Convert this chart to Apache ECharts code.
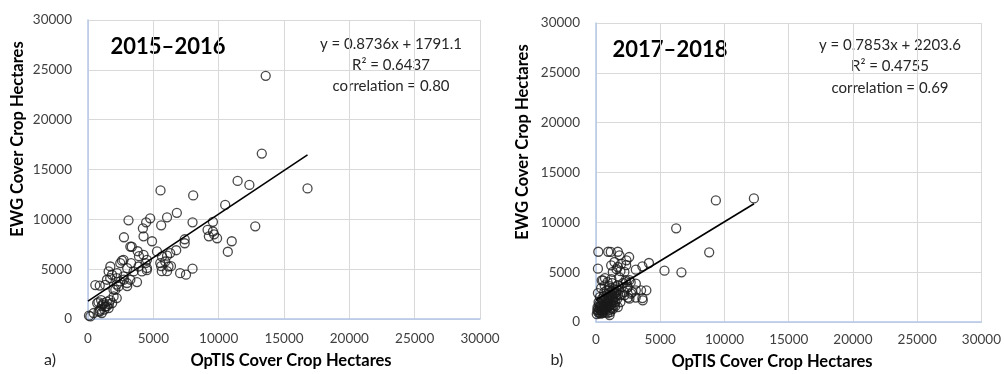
<!DOCTYPE html>
<html><head><meta charset="utf-8">
<script src="https://cdn.jsdelivr.net/npm/echarts@6/dist/echarts.min.js"></script>
<style>html,body{margin:0;padding:0;background:#fff}#c{width:1004px;height:374px}</style>
</head><body><div id="c"></div>
<script>
const ticks = [0, 5000, 10000, 15000, 20000, 25000, 30000];
const panelTitles = ['2015\u20132016', '2017\u20132018'];
const panelLetters = ['a)', 'b)'];
const xTitle = 'OpTIS Cover Crop Hectares';
const yTitle = 'EWG Cover Crop Hectares';
const eqA = ['y = 0.8736x + 1791.1', 'R\u00b2 = 0.6437', 'correlation = 0.80'];
const eqB = ['y = 0.7853x + 2203.6', 'R\u00b2 = 0.4755', 'correlation = 0.69'];
const slopeA = 0.8736, interceptA = 1791.1, xRangeA = [0, 16800];
const slopeB = 0.7853, interceptB = 2203.6, xRangeB = [0, 12300];

const pointsA = [
[75,330],[180,260],[430,600],[810,760],[900,750],[1050,600],
[560,3400],[900,3350],[1320,3420],
[800,1700],[1000,1900],[1100,1450],[1200,1600],[1320,1250],[1450,1300],[1580,1100],[1450,1750],[1700,1900],[1850,1600],[1960,2270],[940,930],[1250,950],[1050,1300],[700,1600],[1600,1500],
[2090,2940],[2340,3270],[2470,3770],[2720,4270],[2980,3610],[3240,3940],[3490,4770],[3870,5270],[4130,4770],[4510,5110],[1710,5270],[1580,4770],[1840,4440],[2220,4600],[1450,3940],[2470,5610],[2720,5940],[1700,4100],[2200,4100],[2750,3950],[2200,3450],[1950,2950],[2200,2100],[3000,3300],[3750,3700],[3000,5100],[3300,5600],[4400,5600],[2600,5850],
[3240,7270],[3350,7250],[3800,6800],[3900,6300],[4250,6440],[4510,5940],[2750,8200],[3100,9900],[4250,8300],[4200,9100],[4450,9700],[4760,10100],[4900,7800],[5550,12900],[5600,9400],[5280,6780],[5660,6270],[5530,5610],[5910,5770],[6160,5270],[6290,6610],[6050,6350],[5600,5300],[5650,4800],[6050,4800],[6350,5300],[4500,4900],[6050,10200],[6800,10650],[6750,6900],[7400,8000],[7400,7600],[7050,4600],[7500,4450],[8000,5050],[8000,9700],[8050,12400],[9150,8950],[9250,8300],[9560,9750],[9560,8780],[9650,8500],[9880,8100],[10500,11450],[10700,6750],[11000,7800],[11450,13850],[12350,13450],[12800,9300],[13300,16600],[13600,24400],[16800,13100]
];

const pointsB = [
[12290,12400],[9330,12200],[6240,9400],[8810,6990],[5330,5150],[6650,4980],[4120,5920],[3610,5590],[3100,5250],[3920,3180],[3610,2400],[3090,2450],[2500,2450],[3100,3180],[3100,3850],[2580,6520],[2370,6190],[1700,7050],[950,7050],[1150,7030],[180,7050],[150,5350],[440,4180],[400,3400],[1060,700],
[1180,5690],[1440,6020],[1700,5520],[1960,5850],[1310,5020],[2210,5020],[1830,6690],[1600,5300],[1900,5100],[2350,5700],[2700,4000],
[540,4180],[670,3680],[2340,4010],[2470,3510],[2730,2840],[3510,3180],[2210,2680],[2600,2340],[3640,2170],
[100,1200],[150,1000],[200,1400],[250,900],[300,1600],[350,1200],[400,1800],[450,1100],[500,1500],[550,2000],[600,1300],[650,2200],[700,1700],[750,1000],[800,2400],[850,1900],[900,1500],[950,2700],[1000,2100],[1050,1200],[1100,2900],[1150,2400],[1200,1800],[1250,3100],[1300,2600],[1350,2000],[1400,3300],[1450,2800],[1500,1600],[1550,3500],[1600,3000],[1650,2300],[1700,3700],[1800,3200],[1900,2700],[2000,3500],[2100,3900],[2200,3000],[200,2000],[300,2500],[150,2900],[600,2600],[500,900],[700,1200],[900,900],[1100,1000],[1300,1300],[1500,2000],[1700,1500],[1900,2000],[250,1800],[450,2300],[650,3000],[850,3200],[1050,3600],[1250,3900],[800,1300],[1000,1600],[1200,1400],[1400,1700],[2300,4200],[2600,4200],[1800,4500],[1200,4300],[1000,3300],[2400,3400],[2800,3000],[700,4400],[900,4000],
[120,1500],[220,1150],[330,1350],[420,1600],[520,1250],[620,1750],[720,2000],[820,1650],[920,2250],[1020,2500],[1120,2150],[1220,2700],[1320,2350],[1420,2950],[1520,2550],[1620,3250],[1720,2750],[60,800],[380,850],[560,1000],[760,1450],[960,1800],[1160,1700],[1360,2200]
];

const FONT = 'Lato';
const grids = [
  {left: 88, top: 20, width: 392, height: 299},
  {left: 596, top: 23, width: 388, height: 299}
];
const fmt = v => String(v);
function axisX(i){
  return {gridIndex:i, type:'value', min:ticks[0], max:ticks[ticks.length-1], interval:ticks[1]-ticks[0],
    axisLine:{show:true, lineStyle:{color:'#b4c7e7', width:1.5}}, axisTick:{show:false},
    splitLine:{show:true, lineStyle:{color:'#d9d9d9', width:1}},
    axisLabel:{color:'#404040', fontFamily:FONT, fontSize:13.5, margin:i?11:13, formatter:fmt}};
}
function axisY(i){
  return {gridIndex:i, type:'value', min:ticks[0], max:ticks[ticks.length-1], interval:ticks[1]-ticks[0],
    axisLine:{show:true, lineStyle:{color:'#b4c7e7', width:1.5}}, axisTick:{show:false},
    splitLine:{show:true, lineStyle:{color:'#d9d9d9', width:1}},
    axisLabel:{color:'#404040', fontFamily:FONT, fontSize:13.5, margin:16, formatter:fmt}};
}
function scatter(i, pts){
  return {type:'scatter', xAxisIndex:i, yAxisIndex:i, data:pts, symbol:'circle', symbolSize:9,
    itemStyle:{color:'rgba(255,255,255,0)', borderColor:'#1a1a1a', borderWidth:1.3}, z:3, silent:true};
}
function trend(i, slope, intercept, range){
  return {type:'line', xAxisIndex:i, yAxisIndex:i, data:range.map(x=>[x, slope*x+intercept]),
    symbol:'none', lineStyle:{color:'#000', width:1.6}, z:4, silent:true};
}
function txt(x, y, s, size, weight, align, rot){
  return {type:'text', x:x, y:y, rotation: rot||0,
    style:{text:s, fontFamily:FONT, fontSize:size, fontWeight:weight, fill:weight==='bold'?'#000':'#262626',
      textAlign:align||'center', textVerticalAlign:'middle'}};
}
const graphics = [
  txt(168, 47, panelTitles[0], 22, 'bold'),
  txt(670, 50, panelTitles[1], 22, 'bold'),
  txt(391, 44, eqA[0], 15, 'normal'), txt(391, 65, eqA[1], 15, 'normal'), txt(391, 86, eqA[2], 15, 'normal'),
  txt(890, 45, eqB[0], 15, 'normal'), txt(890, 66, eqB[1], 15, 'normal'), txt(890, 88, eqB[2], 15, 'normal'),
  txt(291, 361, xTitle, 16.5, 'bold'),
  txt(772, 362, xTitle, 16.5, 'bold'),
  txt(18, 139, yTitle, 16.5, 'bold', 'center', Math.PI/2),
  txt(523, 142, yTitle, 16.5, 'bold', 'center', Math.PI/2),
  txt(50, 360, panelLetters[0], 16, 'normal'),
  txt(557, 360, panelLetters[1], 16, 'normal')
];
const chart = echarts.init(document.getElementById('c'));
chart.setOption({
  animation:false,
  grid: grids,
  xAxis: [axisX(0), axisX(1)],
  yAxis: [axisY(0), axisY(1)],
  series: [scatter(0, pointsA), trend(0, slopeA, interceptA, xRangeA),
           scatter(1, pointsB), trend(1, slopeB, interceptB, xRangeB)],
  graphic: graphics
});
</script></body></html>
